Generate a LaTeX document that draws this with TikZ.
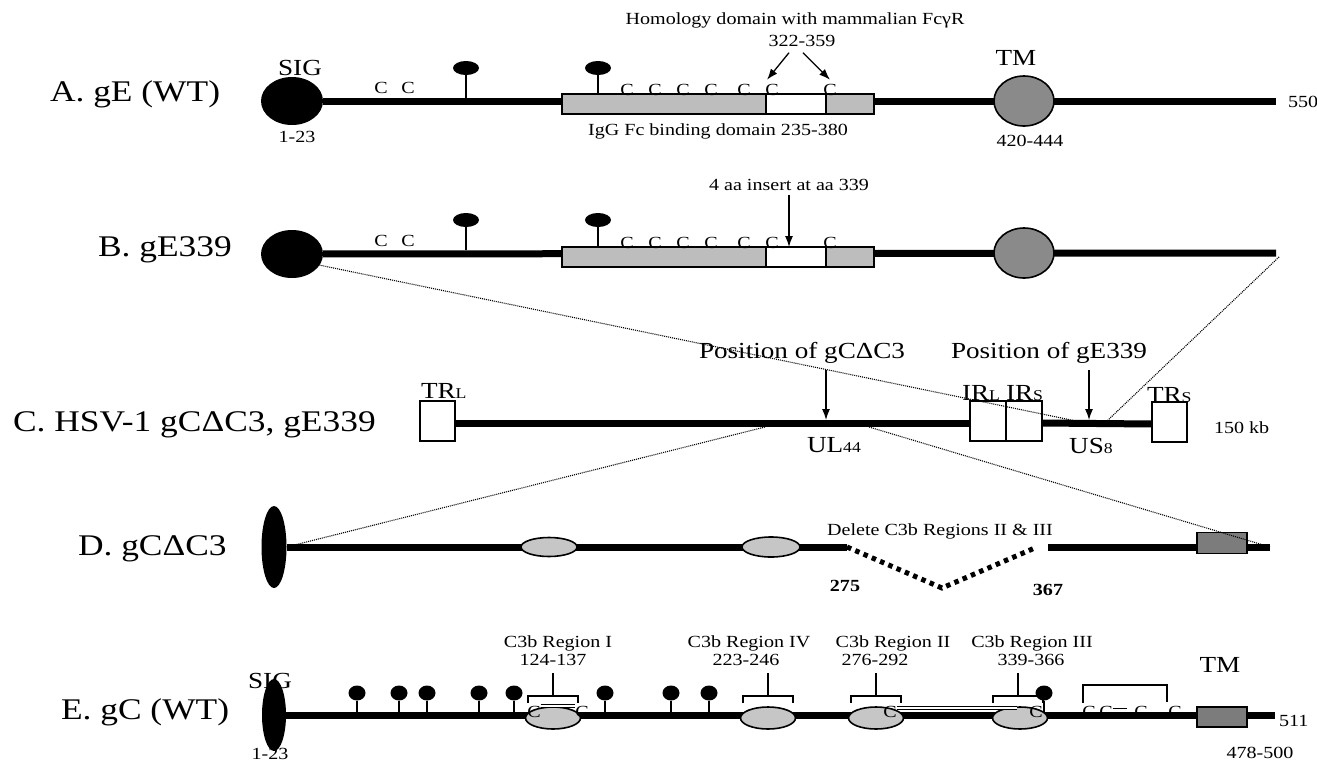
\documentclass[tikz,border=0pt]{standalone}
\usepackage{fontspec}
\setmainfont{Liberation Serif}[FakeStretch=1.18]
\usetikzlibrary{shapes.geometric,arrows.meta,backgrounds}
\definecolor{fcgray}{HTML}{BDBDBD}
\definecolor{tmgray}{HTML}{8A8A8A}
\definecolor{boxgray}{HTML}{7C7C7C}
\definecolor{cgray}{HTML}{C6C6C6}
\newcommand{\fbig}{\fontsize{30}{32}\selectfont}
\newcommand{\fmid}{\fontsize{23}{25}\selectfont}
\newcommand{\fsm}{\fontsize{17}{19}\selectfont}
\newcommand{\lowcap}[1]{{\fontsize{15}{15}\selectfont #1}}

\begin{document}
\begin{tikzpicture}[x=1pt,y=-1pt,every node/.style={inner sep=0pt,outer sep=0pt,font=\fsm},
    bb/.style={line width=7pt},
    sigc/.style={ellipse,fill=black,minimum width=62pt,minimum height=48pt},
    sigv/.style={ellipse,fill=black,minimum width=25pt,minimum height=82pt},
    tmc/.style={ellipse,draw,line width=1.6pt,fill=tmgray,minimum width=60pt,minimum height=50pt},
    fcbox/.style={rectangle,draw,line width=1.6pt,fill=fcgray,minimum width=312pt,minimum height=20pt},
    hombox/.style={rectangle,draw,line width=1.6pt,fill=white,minimum width=60pt,minimum height=20pt},
    tmbox/.style={rectangle,draw,line width=1.2pt,fill=boxgray,minimum width=50pt,minimum height=21pt},
    rpt/.style={rectangle,draw,line width=1.4pt,fill=white,minimum width=36pt,minimum height=40pt},
    c3e/.style={ellipse,draw,line width=1.6pt,fill=cgray,minimum width=55pt,minimum height=22pt},
    glyhead/.style={ellipse,fill=black,minimum width=26pt,minimum height=14pt},
    glyround/.style={ellipse,fill=black,minimum width=17pt,minimum height=15pt},
    glystem/.style={line width=1.3pt},
    cys/.style={anchor=base},
    lbl/.style={anchor=base west,font=\fbig},
    ptr/.style={line width=1.3pt,-{Latex[length=11pt,width=8pt]}},
    brk/.style={line width=1.5pt},
    sbond/.style={double,double distance=2pt,line width=0.8pt},
    delv/.style={line width=5pt,dash pattern=on 4.5pt off 4.5pt},
    zoomln/.style={line width=1.1pt,dash pattern=on 1pt off 1pt}]
  \useasboundingbox (0,0) rectangle (1317,763);

  % A. gE (WT)
  \node[lbl] (la) at (50,101) {A. gE (WT)};
  \node[sigc] (sigA) at (292,101) {};
  \node[font=\fmid,anchor=base] (sigAt) at (300,75) {SIG};
  \node (sigAn) at (297,137) {1-23};
  \node[fcbox] (fcA) at (718,104) {};
  \node[hombox] (homA) at (796,104) {};
  \node[tmc] (tmA) at (1024,101) {};
  \node[font=\fmid,anchor=base] (tmAt) at (1016,65) {TM};
  \node (tmAn) at (1030,141) {420-444};
  \coordinate (endA) at (1276,101);
  \node[anchor=west] (lenA) at (1288,102) {550};
  \node (fcAt) at (718,131) {IgG Fc binding domain 235-380};
  \node (homh) at (795,20) {Homology domain with mammalian FcγR};
  \node (homn) at (802,41) {322-359};
  \foreach \x in {381,408} \node[cys] (cA-\x) at (\x,93) {C};
  \foreach \x in {627,655,683,711,744,772,830} \node[cys] (cA-\x) at (\x,95) {C};
  \node[glyhead] (gA466) at (466,68) {}; \draw[glystem] (gA466.south) -- (466,98);
  \node[glyhead] (gA598) at (598,68) {}; \draw[glystem] (gA598.south) -- (gA598.south |- fcA.north);
  \draw[ptr] ([xshift=-13pt,yshift=-6pt]homn.south) -- ([xshift=-5pt,yshift=4pt]cA-772.north);
  \draw[ptr] ([xshift=1pt,yshift=-6pt]homn.south) -- ([yshift=4pt]cA-830.north);

  % B. gE339
  \node[lbl] (lb) at (98,256) {B. gE339};
  \node[sigc] (sigB) at (292,254) {};
  \node[fcbox] (fcB) at (718,257) {};
  \node[hombox] (homB) at (796,257) {};
  \node[tmc] (tmB) at (1024,253) {};
  \coordinate (endB) at (1276,253);
  \foreach \x in {381,408} \node[cys] (cB-\x) at (\x,246) {C};
  \foreach \x in {627,655,683,711,744,772,830} \node[cys] (cB-\x) at (\x,248) {C};
  \node[glyhead] (gB466) at (466,220) {}; \draw[glystem] (gB466.south) -- (466,250);
  \node[glyhead] (gB598) at (598,220) {}; \draw[glystem] (gB598.south) -- (gB598.south |- fcB.north);
  \node (ins) at (789,185) {4 aa insert at aa 339};
  \draw[ptr] ([yshift=-4pt]ins.south) -- (ins.south |- homB.north);

  % C. HSV-1 genome
  \node[lbl] (lc) at (13,431) {C. HSV-1 gCΔC3, gE339};
  \node[rpt,minimum width=35pt] (trl) at (437.5,421) {};
  \node[rpt] (irl) at (988,421) {};
  \node[rpt] (irs) at (1024,421) {};
  \node[rpt,minimum width=35pt] (trs) at (1169.5,422) {};
  \node[font=\fmid,anchor=base west] (trlt) at (421,398) {TR\lowcap{L}};
  \node[font=\fmid,anchor=base west] (irlt) at (962,400) {IR\lowcap{L}};
  \node[font=\fmid,anchor=base west] (irst) at (1006,400) {IR\lowcap{S}};
  \node[font=\fmid,anchor=base west] (trst) at (1147,402) {TR\lowcap{S}};
  \node[font=\fmid,anchor=base] (ul44) at (834,452) {UL\lowcap{44}};
  \node[font=\fmid,anchor=base] (us8) at (1091,453) {US\lowcap{8}};
  \node[anchor=west] (kb) at (1214,428) {150 kb};
  \node[font=\fmid,anchor=base] (posc) at (802,358) {Position of gCΔC3};
  \node[font=\fmid,anchor=base] (pose) at (1049,358) {Position of gE339};
  \coordinate (pgcT) at (826,370); \coordinate (pgcB) at (826,420);
  \coordinate (pgeT) at (1089,370); \coordinate (pgeB) at (1089,420);
  \draw[ptr] (pgcT) -- (pgcB);
  \draw[ptr] (pgeT) -- (pgeB);
  \coordinate (zB1) at (1076,421); \coordinate (zB2) at (1107,421);
  \coordinate (zC1) at (765,427); \coordinate (zC2) at (869,427);

  % D. gC delta C3
  \node[lbl] (ld) at (78,555) {D. gCΔC3};
  \node[sigv] (sigD) at (274,547) {};
  \node[c3e,minimum width=56pt,minimum height=19pt] (d1) at (549,547) {};
  \node[c3e,minimum width=58pt,minimum height=20pt] (d2) at (771,547) {};
  \coordinate (dcut1) at (847,547); \coordinate (dbot) at (942,588);
  \coordinate (dcut2) at (1037,547); \coordinate (dres) at (1048,547);
  \coordinate (endD) at (1270,547);
  \node[tmbox] (tmD) at (1222,543) {};
  \draw[delv] (dcut1) -- (dbot) -- (dcut2);
  \node[anchor=base] (del) at (940,535) {Delete C3b Regions II \& III};
  \node[font=\fsm\bfseries] (d275) at (845,586) {275};
  \node[font=\fsm\bfseries] (d367) at (1048,590) {367};

  % E. gC (WT)
  \node[lbl] (le) at (61,719) {E. gC (WT)};
  \node[sigv,minimum width=24pt,minimum height=72pt] (sigE) at (274,715) {};
  \node[font=\fmid,anchor=base] (sigEt) at (270,688) {SIG};
  \node (sigEn) at (270,754) {1-23};
  \foreach \x/\nm in {553/eI,768/eIV,876/eII,1020/eIII} \node[c3e] (\nm) at (\x,718) {};
  \node[tmbox,minimum height=20pt] (tmE) at (1222,717) {};
  \node[font=\fmid,anchor=base] (tmEt) at (1220,672) {TM};
  \node[anchor=west] (lenE) at (1279,721) {511};
  \node (tmEn) at (1260,753) {478-500};
  \coordinate (endE) at (1275,715);
  \foreach \x in {357,399,427,479,514,605,671,709,1044} {\node[glyround] (gE\x) at (\x,693) {}; \draw[glystem] (gE\x.south) -- (\x,713);}
  \foreach \tx/\nx/\sx/\rg/\rn in {558/553/553/I/124-137,749/746/768/IV/223-246,893/875/876/II/276-292,1032/1031/1018/III/339-366}{
    \node[anchor=base] (rt\rg) at (\tx,647) {C3b Region \rg};
    \node[anchor=base] (rn\rg) at (\nx,665) {\rn};
    \draw[brk] (\sx-25,703) -- (\sx-25,696) -- (\sx+25,696) -- (\sx+25,703) (\sx,696) -- (\sx,673);
  }
  \foreach \x in {534,582,890,1036,1089,1106,1141,1175} \node[cys] (cE-\x) at (\x,717) {C};
  \draw[sbond] (cE-534.north east) -- (cE-582.north west);
  \draw[sbond] ([yshift=-2pt]cE-890.north east) -- ([xshift=-12pt,yshift=-2pt]cE-1036.north west);
  \draw[line width=1.5pt] ([yshift=3pt]cE-1106.east) -- ++(14,0);
  \draw[brk] (cE-1089.north) ++(-6,-3) |- (1167,685) -- (1167,702);

  \begin{scope}[on background layer]
    \draw[bb] (sigA) -- (endA);
    \draw[bb] (sigB) -- (endB);
    \draw[bb] ([yshift=-2pt]trl.east) -- ([yshift=-2pt]irl.west);
    \draw[bb] ([yshift=-2pt]irs.east) -- ([yshift=-2pt]trs.west);
    \draw[bb] (sigD) -- (dcut1);
    \draw[bb] (dres) -- (endD);
    \draw[bb] (sigE) -- (endE);
  \end{scope}

  % zoom lines
  \draw[zoomln] (sigB.-22) -- (zB1);
  \draw[zoomln] ([xshift=3pt,yshift=-4pt]endB) -- (zB2);
  \draw[zoomln] (zC1) -- (sigD.east);
  \draw[zoomln] (zC2) -- (endD);
\end{tikzpicture}
\end{document}
